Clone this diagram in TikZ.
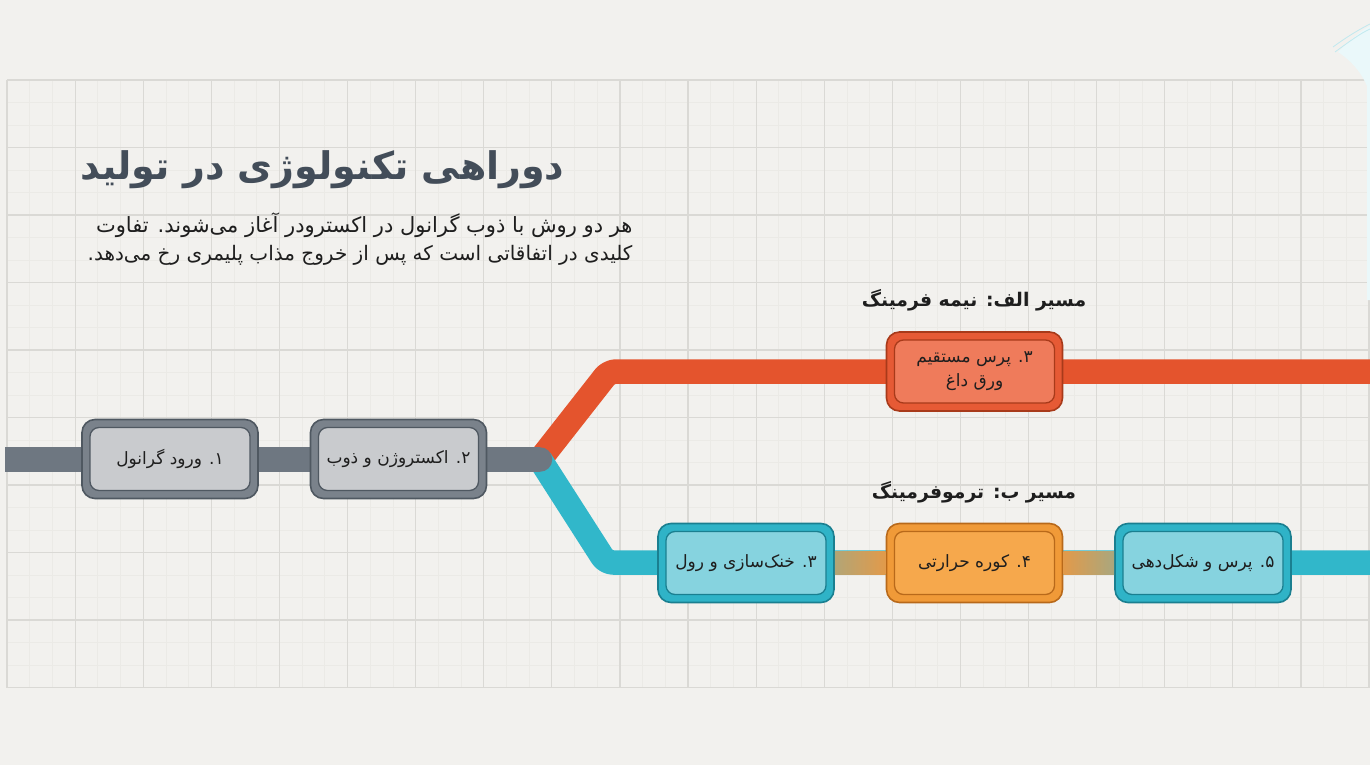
\documentclass[tikz,border=0pt]{standalone}
\usepackage{fontspec}
\newfontfamily\arabicfont[Script=Arabic]{DejaVu Sans}
\TeXXeTstate=1
\definecolor{bgcol}{HTML}{F2F1EE}
\definecolor{gridminor}{HTML}{EBEAE6}
\definecolor{gridmajor}{HTML}{DAD9D5}
\definecolor{titlecol}{HTML}{434D59}
\definecolor{textdark}{HTML}{1E1E1E}
\definecolor{pipegray}{HTML}{6E7781}
\definecolor{pipeorange}{HTML}{E4542D}
\definecolor{pipeblue}{HTML}{31B7CA}
\definecolor{grayedge}{HTML}{4F5861}
\definecolor{grayband}{HTML}{7A828B}
\definecolor{grayfill}{HTML}{C9CBCE}
\definecolor{orangeedge}{HTML}{A83A1A}
\definecolor{orangeband}{HTML}{E65A35}
\definecolor{orangefill}{HTML}{EF7B5B}
\definecolor{blueedge}{HTML}{1A7F90}
\definecolor{blueband}{HTML}{2FB3C7}
\definecolor{bluefill}{HTML}{86D3DF}
\definecolor{amberedge}{HTML}{B8691A}
\definecolor{amberband}{HTML}{F09A38}
\definecolor{amberfill}{HTML}{F6A84C}
\definecolor{linkA}{HTML}{B2A576}
\definecolor{linkB}{HTML}{E29A4A}
\definecolor{linkC}{HTML}{A9A77E}
\tikzset{
  outerbox/.style={rounded corners=13, minimum width=176, minimum height=79, line width=1.6, inner sep=0},
  innerbox/.style={rounded corners=9, minimum width=160, minimum height=63, line width=1.3, inner sep=0,
    font=\arabicfont\fontsize{17}{24}\selectfont, text=textdark, align=center},
  pipe/.style={line width=24.5, line cap=butt, line join=round},
  heading/.style={font=\arabicfont\bfseries\fontsize{18.8}{24}\selectfont, text=textdark},
}
\newcommand\pipebox[6]{%
  \node[outerbox, draw=#3, fill=#4] (#1) at (#2) {};
  \node[innerbox, draw=#3, fill=#5] (#1t) at (#1) {#6};
}
\begin{document}
\begin{tikzpicture}[x=1pt,y=-1pt]
\useasboundingbox (0,0) rectangle (1370,765);
\fill[bgcol] (0,0) rectangle (1370,765);
\begin{scope}
\clip (0,0) rectangle (1370,765);
% grid
\foreach \i in {0,...,59} \draw[gridminor, line width=0.8] ({7+22.7*\i},80) -- ({7+22.7*\i},688);
\foreach \j in {0,...,27} \draw[gridminor, line width=0.8] (7,{80+22.5*\j}) -- (1369,{80+22.5*\j});
\foreach \i in {0,...,20} \draw[gridmajor, line width=1.2] ({7+68.1*\i},80) -- ({7+68.1*\i},688);
\foreach \j in {0,...,9} \draw[gridmajor, line width=1.2] (7,{80+67.5*\j}) -- (1369,{80+67.5*\j});
% corner decoration
\fill[pipeblue!10] (1338,52) .. controls (1352,38) and (1362,30) .. (1370,26) -- (1370,300) -- (1367,300) -- (1367,86) .. controls (1360,70) and (1350,60) .. (1338,52);
\draw[pipeblue!30, line width=0.8] (1333,47) .. controls (1348,36) and (1360,29) .. (1370,24);
\draw[pipeblue!30, line width=0.8] (1335,52) .. controls (1350,41) and (1361,33) .. (1370,29);

% pipes
\coordinate (start) at (5,459.5);
\coordinate (fork) at (540,459.5);
\coordinate (aturn) at (609,371.5);
\coordinate (aend) at (1372,371.5);
\coordinate (bturn) at (606,562.5);
\coordinate (bend) at (1372,562.5);
\draw[pipe, pipeorange, rounded corners=7] (fork) -- (aturn) -- (aend);
\draw[pipe, pipeblue, rounded corners=7] (fork) -- (bturn) -- (bend);
\draw[pipe, pipegray] (start) -- (fork);
\fill[pipegray] (fork) circle (12.25);
\end{scope}

% boxes
\pipebox{b1}{170,459}{grayedge}{grayband}{grayfill}{\beginR ۱. ورود گرانول\endR}
\pipebox{b2}{398.5,459}{grayedge}{grayband}{grayfill}{\beginR ۲. اکستروژن و ذوب\endR}
\pipebox{a3}{974.5,371.5}{orangeedge}{orangeband}{orangefill}{\beginR ۳. پرس مستقیم\endR\\\beginR ورق داغ\endR}
\pipebox{c3}{746,563}{blueedge}{blueband}{bluefill}{\beginR ۳. خنک^^^^200cسازی و رول\endR}
\pipebox{c4}{974.5,563}{amberedge}{amberband}{amberfill}{\beginR ۴. کوره حرارتی\endR}
\pipebox{c5}{1203,563}{blueedge}{blueband}{bluefill}{\beginR ۵. پرس و شکل^^^^200cدهی\endR}

% gradient links between boxes of path B
\shade[left color=linkA, right color=linkB] (c3.east |- 0,551) rectangle (c4.west |- 0,574);
\shade[left color=linkB, right color=linkC] (c4.east |- 0,551) rectangle (c5.west |- 0,574);

% texts
\node[anchor=east, font=\arabicfont\bfseries\fontsize{38}{46}\selectfont, text=titlecol] (title) at (568,170) {\beginR دوراهی تکنولوژی در تولید\endR};
\node[anchor=base east, font=\arabicfont\fontsize{21}{26}\selectfont, text=textdark] (sub1) at (636,232) {\beginR هر دو روش با ذوب گرانول در اکسترودر آغاز می^^^^200cشوند. تفاوت\endR};
\node[anchor=base east, font=\arabicfont\fontsize{20}{26}\selectfont, text=textdark] (sub2) at (636,260) {\beginR کلیدی در اتفاقاتی است که پس از خروج مذاب پلیمری رخ می^^^^200cدهد.\endR};
\node[heading] (ha) at (974,300) {\beginR مسیر الف: نیمه فرمینگ\endR};
\node[heading] (hb) at (974,492) {\beginR مسیر ب: ترموفرمینگ\endR};
\end{tikzpicture}
\end{document}
